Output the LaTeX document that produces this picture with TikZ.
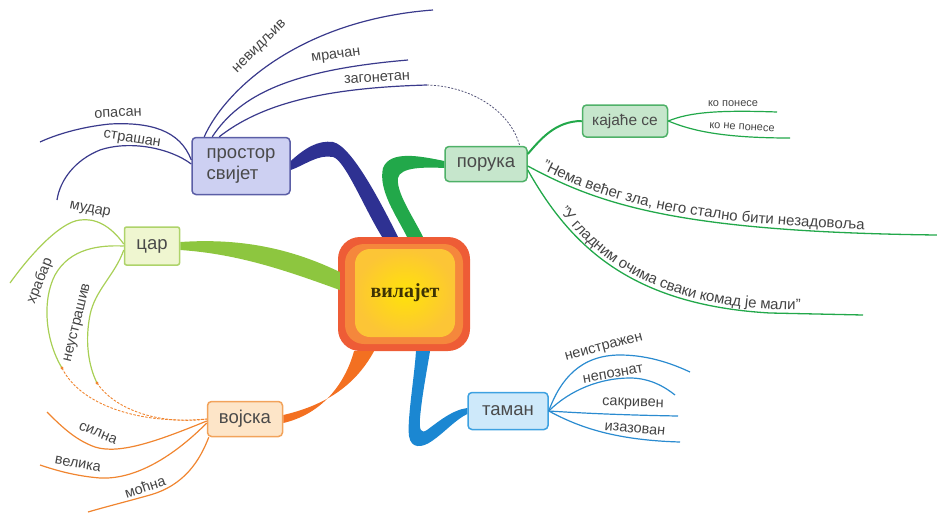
\documentclass[tikz,border=0pt]{standalone}
\usepackage{fontspec}
\setmainfont{Liberation Sans}
\newfontfamily\centerfont{Liberation Serif}
\usetikzlibrary{decorations.text,calc}
\definecolor{navy}{HTML}{2E3192}
\definecolor{navyline}{HTML}{3A3A8C}
\definecolor{grn}{HTML}{22A84A}
\definecolor{lime}{HTML}{8DC63F}
\definecolor{limeline}{HTML}{A8CF55}
\definecolor{orng}{HTML}{F37021}
\definecolor{orngline}{HTML}{F08530}
\definecolor{tblue}{HTML}{1B87D2}
\definecolor{tblueline}{HTML}{2A8BD0}
\definecolor{psf}{HTML}{CDD0F2}
\definecolor{psd}{HTML}{5B5EA6}
\definecolor{pf}{HTML}{C6E6CC}
\definecolor{pd}{HTML}{4FB168}
\definecolor{carf}{HTML}{EFF6D0}
\definecolor{card}{HTML}{AED36A}
\definecolor{vf}{HTML}{FDE5C8}
\definecolor{vd}{HTML}{F2A35B}
\definecolor{tf}{HTML}{CEE9FA}
\definecolor{td}{HTML}{3DA1E1}
\definecolor{cred}{HTML}{EE5C36}
\definecolor{cmid}{HTML}{F5873C}
\definecolor{yin}{HTML}{FFE20A}
\definecolor{yout}{HTML}{FCC536}
\definecolor{ctext}{HTML}{3D3204}
\definecolor{boxtext}{HTML}{4A4A4A}
\definecolor{lbltext}{HTML}{444444}
\definecolor{dashc}{HTML}{55557A}
\begin{document}
\begin{tikzpicture}[x=1pt,y=-1pt,
  box/.style={rounded corners=4pt, line width=1.5pt, font=\fontsize{18.5}{21}\selectfont, text=boxtext, inner sep=0pt},
  lbl/.style={font=\fontsize{14.5}{14.5}\selectfont, text=lbltext, inner sep=0pt},
  slbl/.style={font=\fontsize{11}{11}\selectfont, text=lbltext, inner sep=0pt},
  twig/.style={line width=1.2pt},
  quote/.style={decorate, decoration={text along path, text color=lbltext, raise=4pt}}
]
\useasboundingbox (0,0) rectangle (937,515);

% central node
\node[fill=cred, rounded corners=22pt, minimum width=132pt, minimum height=114pt, inner sep=0pt] (c) at (404,294) {};
\node[fill=cmid, rounded corners=19pt, minimum width=118pt, minimum height=100pt, inner sep=0pt] (cm) at (404,294) {};
\node[inner color=yin, outer color=yout, rounded corners=15pt, minimum width=100pt, minimum height=88pt, inner sep=0pt, font=\centerfont\bfseries\fontsize{20}{20}\selectfont, text=ctext] (cin) at (405,293) {вилајет};

% main boxes
\node[box, draw=psd, fill=psf, minimum width=98pt, minimum height=57pt, align=left] (ps) at (241,166) {простор\\свијет};
\node[box, draw=pd, fill=pf, minimum width=82pt, minimum height=35pt] (p) at (486,164) {порука};
\node[box, draw=pd, fill=pf, minimum width=85pt, minimum height=32pt, font=\fontsize{15.5}{17}\selectfont] (k) at (625,121) {кајаће се};
\node[box, draw=card, fill=carf, minimum width=55pt, minimum height=38pt, rounded corners=2pt] (car) at (152,246) {цар};
\node[box, draw=vd, fill=vf, minimum width=75pt, minimum height=35pt] (v) at (245,419) {војска};
\node[box, draw=td, fill=tf, minimum width=80pt, minimum height=37pt] (t) at (508,411) {таман};

% thick tapered connectors
\fill[navy] ($(ps.east)+(0,-5)$) .. controls (305,148) and (318,140) .. (333,142) .. controls (352,146) and (382,205) .. ($(c.north)+(-6,0)$) -- ($(c.north)+(-22,0)$) .. controls (364,208) and (345,160) .. (333,157) .. controls (318,154) and (305,165) .. ($(ps.east)+(0,4)$) -- cycle;
\fill[grn] ($(p.west)+(0,-3)$) .. controls (420,156) and (390,150) .. (383,168) .. controls (378,190) and (396,215) .. ($(c.north)+(3,0)$) -- ($(c.north)+(19,0)$) .. controls (412,215) and (396,192) .. (398,178) .. controls (400,167) and (425,167) .. ($(p.west)+(0,4)$) -- cycle;
\fill[lime] ($(car.east)+(0,-4)$) .. controls (240,238) and (290,248) .. ($(c.west)+(2,-22)$) -- ($(c.west)+(2,-4)$) .. controls (290,272) and (240,254) .. ($(car.east)+(0,4)$) -- cycle;
\fill[orng] ($(v.east)+(0,4)$) .. controls (322,414) and (345,384) .. ($(c.south)+(-50,0)$) -- ($(c.south)+(-30,0)$) .. controls (354,388) and (322,406) .. ($(v.east)+(0,-4)$) -- cycle;
\fill[tblue] ($(c.south)+(12,0)$) .. controls (414,380) and (407,420) .. (409,436) .. controls (411,449) and (422,448) .. (432,441) .. controls (445,432) and (455,420) .. ($(t.west)+(0,3)$) -- ($(t.west)+(0,-3)$) .. controls (452,410) and (438,422) .. (427,430) .. controls (421,434) and (419,430) .. (420,418) .. controls (422,395) and (427,370) .. ($(c.south)+(26,0)$) -- cycle;

% простор свијет branches
\coordinate (e1) at (433,10);
\coordinate (e2) at (408,60);
\coordinate (e3) at (427,85);
\coordinate (e4) at (40,142);
\coordinate (e5) at (57,200);
\draw[navyline, twig] ($(ps.north west)+(13,0)$) .. controls (225,90) and (300,20) .. (e1);
\draw[navyline, twig] ($(ps.north west)+(21,0)$) .. controls (240,95) and (290,70) .. (e2);
\draw[navyline, twig] ($(ps.north west)+(28,0)$) .. controls (260,105) and (320,88) .. (e3);
\draw[navyline, twig] ($(ps.west)+(0,-6)$) .. controls (180,130) and (150,122) .. (110,124) .. controls (80,127) and (55,135) .. (e4);
\draw[navyline, twig] ($(ps.west)+(0,-2)$) .. controls (170,148) and (130,140) .. (100,150) .. controls (75,160) and (60,180) .. (e5);
\draw[dashc, line width=0.8pt, dash pattern=on 2pt off 1.5pt] (e3) .. controls (470,86) and (510,110) .. ($(p.north east)+(-8,0)$);
\node[lbl, rotate=45] (l1) at (260,47) {невидљив};
\node[lbl, rotate=8] (l2) at (336,56) {мрачан};
\node[lbl, rotate=3] (l3) at (377,78) {загонетан};
\node[lbl, rotate=3] (l4) at (118,113) {опасан};
\node[lbl, rotate=-9] (l5) at (132,140) {страшан};

% порука branches
\draw[grn, line width=2pt] ($(p.east)+(0,-10)$) .. controls (540,140) and (555,121) .. (k.west);
\coordinate (e6) at (777,112);
\coordinate (e7) at (790,138);
\draw[grn, twig] (k.east) .. controls (690,112) and (720,110) .. (e6);
\draw[grn, twig] (k.east) .. controls (690,130) and (720,138) .. (e7);
\node[slbl] (l6) at (733,104) {ко понесе};
\node[slbl, rotate=-3] (l7) at (742,127) {ко не понесе};
\coordinate (e8) at (937,235);
\coordinate (e9) at (863,315);
\draw[grn, line width=1.3pt] ($(p.east)+(0,2)$) .. controls (600,205) and (680,232) .. (e8);
\draw[grn, line width=1.3pt] ($(p.east)+(0,6)$) .. controls (570,245) and (630,305) .. (770,313) -- (e9);
\path[quote, decoration={text={|\fontsize{15}{15}\selectfont|"Нема већег зла, него стално бити незадовоља}, text align={left indent=14pt}}] ($(p.east)+(0,2)$) .. controls (600,205) and (680,232) .. (e8);
\path[quote, decoration={text={|\fontsize{15}{15}\selectfont|"У гладним очима сваки комад је мали"}, text align={left indent=52pt}}] ($(p.east)+(0,6)$) .. controls (570,245) and (630,305) .. (770,313) -- (e9);

% таман branches
\coordinate (e10) at (690,372);
\coordinate (e11) at (675,395);
\coordinate (e12) at (678,416);
\coordinate (e13) at (680,442);
\draw[tblueline, twig] (t.east) .. controls (560,380) and (580,355) .. (620,355) .. controls (650,355) and (675,365) .. (e10);
\draw[tblueline, twig] (t.east) .. controls (570,390) and (600,378) .. (630,378) .. controls (650,378) and (665,387) .. (e11);
\draw[tblueline, twig] (t.east) .. controls (580,413) and (620,415) .. (e12);
\draw[tblueline, twig] (t.east) .. controls (575,425) and (610,440) .. (e13);
\node[lbl, rotate=15] (l8) at (604,348) {неистражен};
\node[lbl, rotate=10] (l9) at (613,374) {непознат};
\node[lbl, rotate=-2] (l10) at (633,404) {сакривен};
\node[lbl, rotate=-5] (l11) at (635,429) {изазован};

% цар branches
\coordinate (e14) at (10,283);
\coordinate (d1) at (62,368);
\coordinate (d2) at (97,383);
\draw[limeline, twig] ($(car.west)+(0,-2)$) .. controls (110,225) and (95,218) .. (80,220) .. controls (60,222) and (30,255) .. (e14);
\draw[limeline, twig] (car.west) .. controls (100,245) and (70,248) .. (55,275) .. controls (42,300) and (45,340) .. (d1);
\draw[limeline, twig] ($(car.west)+(0,4)$) .. controls (115,275) and (95,290) .. (90,315) .. controls (85,340) and (88,365) .. (d2);
\draw[orngline, line width=0.9pt, dash pattern=on 2.5pt off 1.5pt] (d1) .. controls (80,405) and (140,425) .. (v.west);
\draw[orngline, line width=0.9pt, dash pattern=on 2.5pt off 1.5pt] (d2) .. controls (115,410) and (160,425) .. (v.west);
\fill[orngline] (d1) circle (1.6pt);
\fill[orngline] (d2) circle (1.6pt);
\node[lbl, rotate=-12] (l12) at (90,210) {мудар};
\node[lbl, rotate=68] (l13) at (40,281) {храбар};
\node[lbl, rotate=76] (l14) at (78,323) {неустрашив};

% војска branches
\coordinate (e15) at (47,412);
\coordinate (e16) at (40,465);
\coordinate (e17) at (88,512);
\draw[orngline, twig] ($(v.west)+(0,2)$) .. controls (160,440) and (120,455) .. (95,447) .. controls (75,440) and (60,425) .. (e15);
\draw[orngline, twig] ($(v.west)+(0,4)$) .. controls (180,450) and (140,480) .. (100,478) .. controls (75,476) and (55,470) .. (e16);
\draw[orngline, twig] ($(v.south west)+(2,0)$) .. controls (200,460) and (185,485) .. (150,495) .. controls (125,502) and (105,507) .. (e17);
\node[lbl, rotate=-22] (l15) at (98,433) {силна};
\node[lbl, rotate=-10] (l16) at (78,464) {велика};
\node[lbl, rotate=18] (l17) at (145,487) {моћна};
\end{tikzpicture}
\end{document}
